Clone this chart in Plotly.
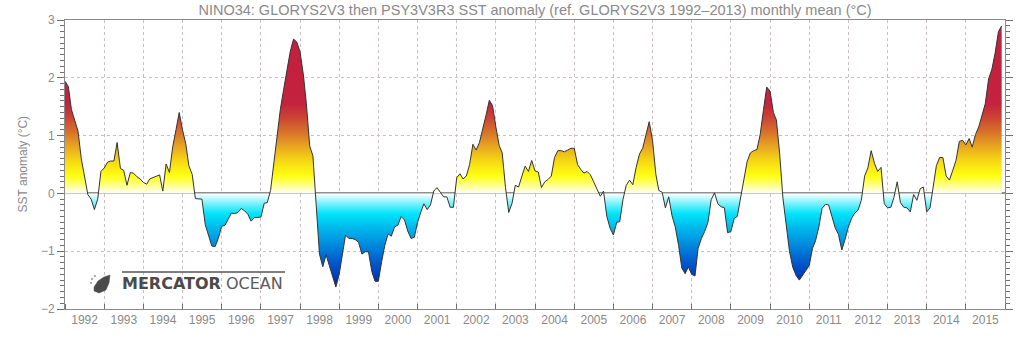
import pandas as pd
import plotly.graph_objects as go

# ---- data (monthly SST anomaly, °C), Jan 1992 .. Dec 2015 ----
start_month = "1992-01-01"
anomaly = [
    # 1992
    1.94, 1.85, 1.45, 1.25, 1.08, 0.60, 0.28, -0.02, -0.10, -0.28, -0.10, 0.38,
    # 1993
    0.44, 0.54, 0.56, 0.56, 0.88, 0.43, 0.40, 0.14, 0.36, 0.35, 0.29, 0.25,
    # 1994
    0.19, 0.16, 0.25, 0.27, 0.29, 0.32, 0.04, 0.51, 0.36, 0.80, 1.10, 1.40,
    # 1995
    1.10, 0.85, 0.48, 0.33, -0.09, -0.10, -0.10, -0.54, -0.75, -0.91, -0.92, -0.78,
    # 1996
    -0.57, -0.55, -0.45, -0.34, -0.35, -0.33, -0.26, -0.30, -0.36, -0.48, -0.42, -0.41,
    # 1997
    -0.41, -0.17, -0.16, 0.05, 0.55, 1.00, 1.45, 1.80, 2.12, 2.45, 2.67, 2.62,
    # 1998
    2.45, 2.05, 1.55, 0.82, 0.65, -0.25, -1.05, -1.27, -1.06, -1.25, -1.45, -1.62,
    # 1999
    -1.40, -1.08, -0.72, -0.78, -0.78, -0.80, -0.85, -1.05, -1.01, -1.01, -1.35, -1.52,
    # 2000
    -1.52, -1.18, -0.90, -0.70, -0.74, -0.58, -0.55, -0.40, -0.46, -0.65, -0.78, -0.76,
    # 2001
    -0.50, -0.32, -0.18, -0.28, -0.20, 0.04, 0.10, 0.02, -0.06, -0.06, -0.24, -0.24,
    # 2002
    0.27, 0.34, 0.25, 0.30, 0.50, 0.85, 0.75, 0.88, 1.10, 1.35, 1.61, 1.52,
    # 2003
    1.15, 0.83, 0.70, 0.10, -0.33, -0.17, 0.14, 0.11, 0.30, 0.47, 0.38, 0.57,
    # 2004
    0.39, 0.37, 0.10, 0.20, 0.24, 0.30, 0.62, 0.74, 0.74, 0.72, 0.75, 0.78,
    # 2005
    0.78, 0.50, 0.42, 0.35, 0.38, 0.32, 0.20, 0.08, -0.05, 0.04, -0.40, -0.60,
    # 2006
    -0.72, -0.50, -0.49, -0.10, 0.14, 0.23, 0.15, 0.45, 0.68, 0.78, 1.00, 1.24,
    # 2007
    0.92, 0.33, 0.05, 0.02, -0.25, -0.06, -0.38, -0.58, -0.90, -1.29, -1.39, -1.27,
    # 2008
    -1.40, -1.43, -0.95, -0.78, -0.66, -0.50, -0.11, 0.01, -0.18, -0.23, -0.25, -0.68,
    # 2009
    -0.66, -0.43, -0.40, -0.06, 0.25, 0.55, 0.70, 0.74, 0.76, 1.02, 1.45, 1.84,
    # 2010
    1.77, 1.40, 1.27, 0.68, -0.08, -0.50, -1.00, -1.28, -1.42, -1.50, -1.42, -1.34,
    # 2011
    -1.25, -0.95, -0.82, -0.58, -0.26, -0.19, -0.20, -0.40, -0.60, -0.71, -0.98, -0.80,
    # 2012
    -0.58, -0.43, -0.34, -0.29, -0.12, 0.30, 0.44, 0.74, 0.52, 0.38, 0.45, -0.18,
    # 2013
    -0.25, -0.24, -0.07, 0.20, -0.16, -0.24, -0.25, -0.32, -0.02, -0.12, 0.08, 0.11,
    # 2014
    -0.32, -0.25, 0.10, 0.48, 0.62, 0.62, 0.30, 0.23, 0.40, 0.57, 0.90, 0.92,
    # 2015
    0.84, 0.95, 0.80, 1.02, 1.15, 1.35, 1.55, 1.98, 2.15, 2.43, 2.80, 2.90,
]
months = pd.date_range(start_month, periods=len(anomaly), freq="MS")

title_text = "NINO34: GLORYS2V3 then PSY3V3R3 SST anomaly (ref. GLORYS2V3 1992\u20132013) monthly mean (\u00b0C)"
ytitle_text = "SST anomaly (\u00b0C)"
y_range = [-2, 3]
x_range = ["1992-01-01", "2016-01-01"]

# colour ramp across the y range (-2 .. 3), white at zero
colorscale = [
    [0.00, "#001a8c"],
    [0.08, "#0028b0"],
    [0.16, "#0058cc"],
    [0.22, "#0088dc"],
    [0.28, "#00b8ec"],
    [0.33, "#00e4fa"],
    [0.37, "#8cf4fc"],
    [0.40, "#ffffff"],
    [0.42, "#ffffa8"],
    [0.46, "#ffff14"],
    [0.51, "#f6da12"],
    [0.56, "#e8a820"],
    [0.61, "#d8742a"],
    [0.66, "#cc4632"],
    [0.71, "#c4223e"],
    [1.00, "#c0203f"],
]

grey = "#8a8a8a"
tickc = "#707070"
gridc = "#cbbfbf"
font_fam = "Liberation Sans, DejaVu Sans, sans-serif"

fig = go.Figure()
fig.add_trace(go.Scatter(
    x=months, y=anomaly, mode="lines",
    line=dict(color="#333333", width=1),
    fill="tozeroy",
    fillgradient=dict(type="vertical", start=y_range[0], stop=y_range[1], colorscale=colorscale),
    hoverinfo="x+y", showlegend=False,
))

fig.update_layout(
    width=1024, height=351,
    margin=dict(l=65, r=19, t=20, b=42),
    paper_bgcolor="white", plot_bgcolor="white",
    font=dict(family=font_fam, color=grey, size=12),
    title=dict(text=title_text, x=(65 + 1005) / 2 / 1024, xanchor="center",
               y=1 - 10 / 351, yanchor="middle",
               font=dict(size=14.5, color=grey, family=font_fam)),
    showlegend=False,
)

fig.update_xaxes(
    type="date", range=x_range,
    dtick="M12", tick0="1992-01-01", tickformat="%Y", ticklabelmode="period",
    ticks="inside", ticklen=5, tickcolor=tickc,
    showline=True, linecolor=grey, linewidth=1, mirror=True,
    showgrid=True, gridcolor=gridc, griddash="dot", gridwidth=1,
    layer="above traces",
    tickfont=dict(size=12, color=grey),
)
fig.update_yaxes(
    range=y_range, tickmode="linear", dtick=1, tick0=0,
    ticks="outside", ticklen=7, tickcolor=tickc, tickwidth=1,
    minor=dict(tickmode="linear", tick0=-2, dtick=0.1, ticks="outside",
               ticklen=4, tickcolor=tickc, tickwidth=1, showgrid=False),
    showline=True, linecolor=grey, linewidth=1, mirror="ticks",
    showgrid=True, gridcolor=gridc, griddash="dot", gridwidth=1,
    zeroline=True, zerolinecolor="#909090", zerolinewidth=1.5,
    layer="above traces",
    tickfont=dict(size=12, color=grey),
)

# y-axis title
fig.add_annotation(text=ytitle_text, textangle=-90, xref="paper", yref="paper",
                   x=(22 - 65) / 940, y=0.5, xanchor="center", yanchor="middle",
                   showarrow=False, font=dict(size=12, color=grey, family=font_fam))

# logo
def px(xp):
    return (xp - 65) / 940

def py(yp):
    return (309 - yp) / 289

fig.add_annotation(text="<b>MERCATOR</b> <span style='color:#5a5a5a'>OCEAN</span>",
                   xref="paper", yref="paper",
                   x=px(120), y=py(283), xanchor="left", yanchor="middle",
                   showarrow=False,
                   font=dict(size=16, color="#4a4a4a", family="DejaVu Sans, sans-serif"))
fig.add_shape(type="line", xref="paper", yref="paper",
              x0=px(122), x1=px(285), y0=py(272), y1=py(272),
              line=dict(color="#555555", width=1.5))
pts = [(94, 287), (98, 281), (104, 277), (110, 275), (109, 283), (106, 290), (99, 293), (94, 291)]
path = "M " + " L ".join(f"{px(a):.4f},{py(b):.4f}" for a, b in pts) + " Z"
fig.add_shape(type="path", xref="paper", yref="paper", path=path,
              fillcolor="#4a4a4a", line=dict(color="#4a4a4a", width=0.5))
for (a, b) in [(92, 279), (95, 276), (91, 283)]:
    fig.add_shape(type="circle", xref="paper", yref="paper",
                  x0=px(a - 0.8), x1=px(a + 0.8), y0=py(b + 0.8), y1=py(b - 0.8),
                  fillcolor="#4a4a4a", line=dict(width=0))

fig.write_html("out.html")
